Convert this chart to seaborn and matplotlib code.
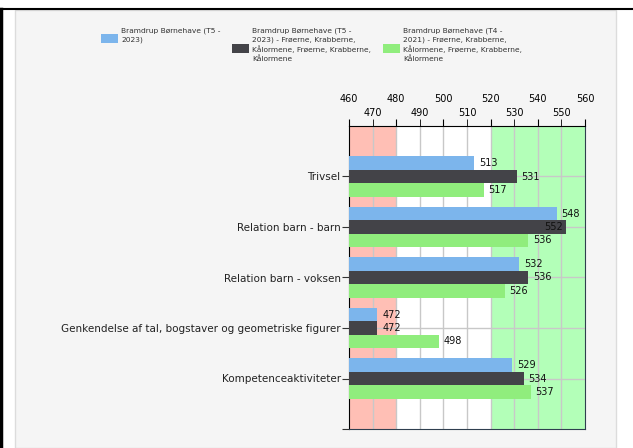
import pandas as pd
import seaborn as sns
import matplotlib.pyplot as plt
from matplotlib.patches import Rectangle
from matplotlib.lines import Line2D

categories = ["Trivsel", "Relation barn - barn", "Relation barn - voksen",
              "Genkendelse af tal, bogstaver og geometriske figurer",
              "Kompetenceaktiviteter"]
series = ["Bramdrup Børnehave (T5 - 2023)",
          "Bramdrup Børnehave (T5 - 2023) - Frøerne, Krabberne, Kålormene, Frøerne, Krabberne, Kålormene",
          "Bramdrup Børnehave (T4 - 2021) - Frøerne, Krabberne, Kålormene, Frøerne, Krabberne, Kålormene"]
t5_2023 = [513, 548, 532, 472, 529]
t5_2023_groups = [531, 552, 536, 472, 534]
t4_2021_groups = [517, 536, 526, 498, 537]
colors = ["#7cb5ec", "#434348", "#90ed7d"]

rows = []
for s, vals in zip(series, [t5_2023, t5_2023_groups, t4_2021_groups]):
    for c, v in zip(categories, vals):
        rows.append({"kategori": c, "serie": s, "score": v})
df = pd.DataFrame(rows)

W, H = 633, 448
fig = plt.figure(figsize=(W / 100, H / 100), dpi=100, facecolor="white")
plt.rcParams["font.family"] = ["DejaVu Sans"]


def fx(px):
    return px / W


def fy(py):
    return 1 - py / H


# frame of the panel
fig.add_artist(Rectangle((fx(15), 0), fx(616) - fx(15), fy(10), transform=fig.transFigure,
                         facecolor="#f5f5f5", edgecolor="#dcdcdc", lw=1, zorder=0))
fig.add_artist(Line2D([0, 1], [fy(9.5), fy(9.5)], transform=fig.transFigure, color="black", lw=1.5))
fig.add_artist(Line2D([fx(1), fx(1)], [0, fy(9.5)], transform=fig.transFigure, color="black", lw=2.5))

ax = fig.add_axes([fx(349), fy(429), fx(585) - fx(349), fy(126) - fy(429)])
ax.set_facecolor("white")

sns.barplot(data=df, y="kategori", x="score", hue="serie", palette=colors, orient="h",
            width=0.8, saturation=1, legend=False, ax=ax, zorder=3, errorbar=None)

ax.set_xlim(460, 560)
ax.set_ylim(5, -1)
ax.axvspan(460, 480, color="#ffbfb5", zorder=0, lw=0)
ax.axvspan(520, 560, color="#b3ffb8", zorder=0, lw=0)

for x in range(470, 560, 10):
    ax.axvline(x, color="#c8c8c8", lw=1, zorder=1)
for y in range(len(categories)):
    ax.axhline(y, color="#c8c8c8", lw=1, zorder=1)

# value labels
for cont in ax.containers:
    for bar in cont:
        v = bar.get_width()
        yc = bar.get_y() + bar.get_height() / 2
        if v > 550:
            ax.annotate(f"{v:.0f}", (v, yc), xytext=(-2, 0), textcoords="offset points",
                        ha="right", va="center", fontsize=7, color="#111111", zorder=5)
        else:
            ax.annotate(f"{v:.0f}", (v, yc), xytext=(3.5, 0), textcoords="offset points",
                        ha="left", va="center", fontsize=7, color="#111111", zorder=5)

ax.xaxis.tick_top()
ax.set_xticks(range(460, 561, 20))
ax.set_xticks(range(470, 560, 20), minor=True)
ax.set_xticklabels([str(v) for v in range(460, 561, 20)])
ax.set_xticklabels([str(v) for v in range(470, 560, 20)], minor=True)
ax.tick_params(axis="x", which="major", length=5, pad=10.5, labelsize=7, color="black")
ax.tick_params(axis="x", which="minor", length=5, pad=0.5, labelsize=7, color="black")
ax.set_yticks(list(range(len(categories))) + [5])
ax.set_yticklabels(categories + [""])
ax.tick_params(axis="y", length=5, labelsize=7.5, pad=1, color="#333333", labelcolor="#222222")
ax.set_xlabel("")
ax.set_ylabel("")
for side in ["top", "left"]:
    ax.spines[side].set_color("black")
for side in ["right", "bottom"]:
    ax.spines[side].set_color("#2f3f4f")

# legend, wrapped by pixel width like the original
leg_size = 5.4
renderer = fig.canvas.get_renderer()


def text_px(s):
    t = fig.text(0, 0, s, fontsize=leg_size)
    w = t.get_window_extent(renderer).width
    t.remove()
    return w


def wrap_px(s, max_px):
    lines, cur = [], ""
    for word in s.split(" "):
        trial = (cur + " " + word).strip()
        if cur and text_px(trial) > max_px:
            lines.append(cur)
            cur = word
        else:
            cur = trial
    lines.append(cur)
    return lines


leg_x = [101, 232, 383]
for i, (s, c) in enumerate(zip(series, colors)):
    lines = wrap_px(s, 121)
    yc = 29 + len(lines) * 10 / 2
    fig.add_artist(Rectangle((fx(leg_x[i]), fy(yc + 4.5)), fx(17), 9 / H,
                             transform=fig.transFigure, facecolor=c, edgecolor="none"))
    fig.text(fx(leg_x[i] + 20), fy(28), "\n".join(lines), fontsize=leg_size, va="top",
             ha="left", color="#333333", linespacing=1.4)

fig.savefig("out.png", dpi=100, facecolor="white")
